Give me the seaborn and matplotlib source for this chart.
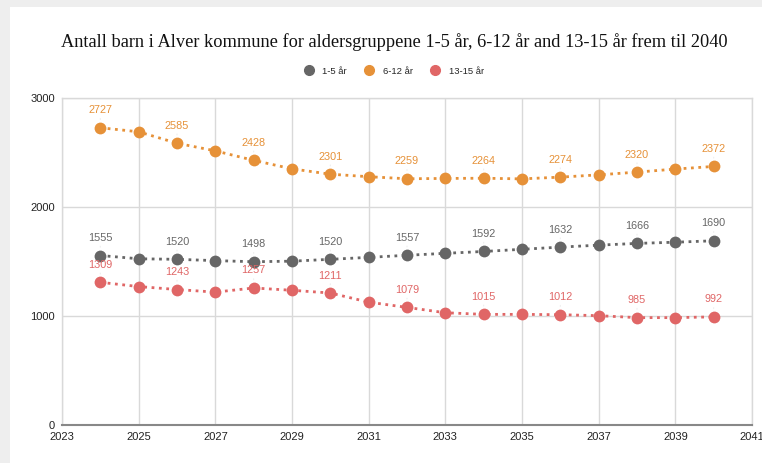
import numpy as np
import pandas as pd
import matplotlib
matplotlib.use('Agg')
import matplotlib.pyplot as plt
import seaborn as sns
from matplotlib.patches import Rectangle
from matplotlib.lines import Line2D

years = list(range(2024, 2041))
barn_1_5 = [1555, 1525, 1520, 1508, 1498, 1503, 1520, 1538, 1557, 1575, 1592, 1612, 1632, 1650, 1666, 1677, 1690]
barn_6_12 = [2727, 2690, 2585, 2515, 2428, 2350, 2301, 2278, 2259, 2262, 2264, 2258, 2274, 2295, 2320, 2348, 2372]
barn_13_15 = [1309, 1270, 1243, 1219, 1257, 1236, 1211, 1127, 1079, 1030, 1015, 1015, 1012, 1003, 985, 985, 992]
series_names = ['1-5 år', '6-12 år', '13-15 år']
colors = ['#666666', '#e69138', '#e06666']

df = pd.DataFrame({'år': years, '1-5 år': barn_1_5, '6-12 år': barn_6_12, '13-15 år': barn_13_15})
long = df.melt(id_vars='år', var_name='gruppe', value_name='antall')

sns.set_style('white')
plt.rcParams['font.family'] = ['Liberation Sans', 'DejaVu Sans']

fig = plt.figure(figsize=(7.62, 4.63), dpi=100)
fig.patch.set_facecolor('#eeeeee')
# white card like the screenshot
card = Rectangle((10 / 762, 0), 1, 1 - 7 / 463, transform=fig.transFigure,
                 facecolor='white', edgecolor='none', zorder=-5)
fig.add_artist(card)

ax = fig.add_axes([62 / 762, 1 - 425 / 463, 690 / 762, 327 / 463])
ax.set_zorder(5)
ax.set_facecolor('white')

for name, col in zip(series_names, colors):
    sub = long[long['gruppe'] == name]
    sns.lineplot(data=sub, x='år', y='antall', ax=ax, color=col, marker='o',
                 markersize=8.5, markeredgewidth=0, linestyle=':', linewidth=2,
                 legend=False, zorder=3)
    for x, y in zip(sub['år'], sub['antall']):
        if (x - 2024) % 2 == 0:
            ax.annotate(str(y), (x, y), xytext=(0, 9), textcoords='offset points',
                        ha='center', va='bottom', fontsize=7.8, color=col, zorder=10,
                        arrowprops=dict(arrowstyle='-', color='#eeeeee', lw=0.8,
                                        shrinkA=0, shrinkB=6))

ax.set_xlim(2023, 2041)
ax.set_ylim(0, 3000)
ax.set_xticks(range(2023, 2042, 2))
ax.set_yticks([0, 1000, 2000, 3000])
ax.grid(True, color='#d9d9d9', linewidth=1)
ax.set_axisbelow(True)
ax.set_xlabel('')
ax.set_ylabel('')
ax.tick_params(axis='both', labelsize=8, colors='#222222', length=0, pad=5)
for s in ['top', 'right', 'left']:
    ax.spines[s].set_color('#d9d9d9')
    ax.spines[s].set_linewidth(1)
ax.spines['bottom'].set_color('#888888')
ax.spines['bottom'].set_linewidth(1.5)

fig.text(394.5 / 762, 1 - 42 / 463, 'Antall barn i Alver kommune for aldersgruppene 1-5 år, 6-12 år and 13-15 år frem til 2040',
         ha='center', va='center', fontsize=13.2, family=['Liberation Serif', 'DejaVu Serif'], color='#111111')

handles = [Line2D([], [], marker='o', linestyle='', color=c, markersize=7) for c in colors]
fig.legend(handles, series_names, loc='center', bbox_to_anchor=(394 / 762, 1 - 71 / 463), ncol=3,
           frameon=False, fontsize=6.8, handletextpad=0.9, columnspacing=1.9, handlelength=1)

fig.savefig('out.png', dpi=100, facecolor=fig.get_facecolor())
